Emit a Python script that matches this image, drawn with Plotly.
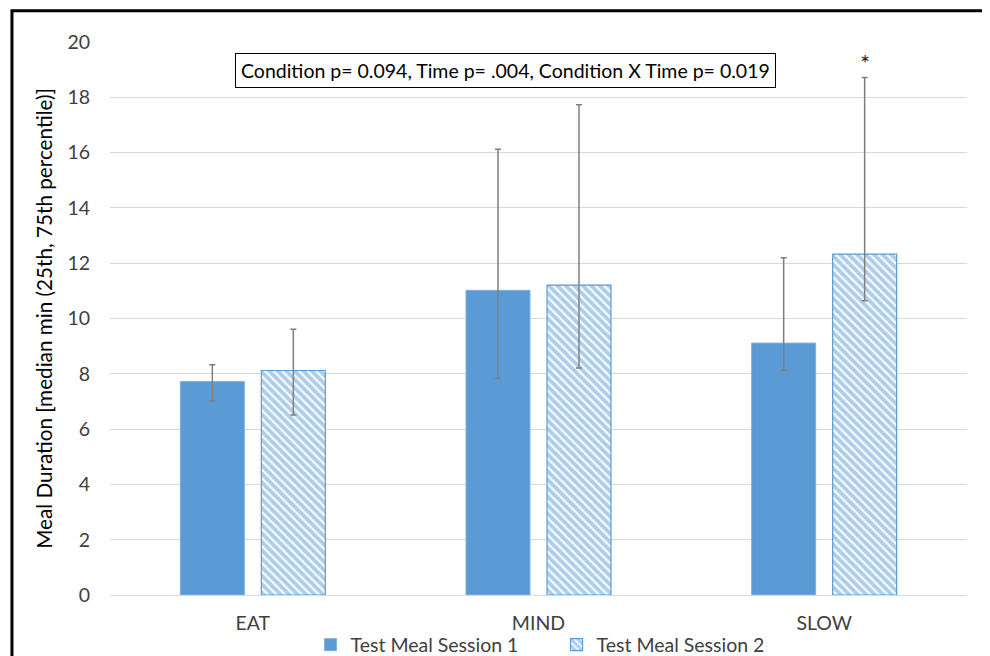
import plotly.graph_objects as go

categories = ["EAT", "MIND", "SLOW"]
series_names = ["Test Meal Session 1", "Test Meal Session 2"]
session1_median = [7.72, 11.02, 9.11]
session1_p25 = [7.02, 7.83, 8.12]
session1_p75 = [8.33, 16.12, 12.20]
session2_median = [8.12, 11.21, 12.33]
session2_p25 = [6.51, 8.21, 10.64]
session2_p75 = [9.61, 17.73, 18.72]
y_ticks = [0, 2, 4, 6, 8, 10, 12, 14, 16, 18, 20]
stats_text = "Condition p= 0.094, Time p= .004, Condition X Time p= 0.019"
y_title = "Meal Duration [median min (25th, 75th percentile)]"

BLUE = "#5B9BD5"
ERR = "#7F7F7F"
FONT = "Lato"
TXT = "#404040"
FS = 19.5

def err(med, lo, hi):
    return dict(type="data", symmetric=False,
                array=[h - m for h, m in zip(hi, med)],
                arrayminus=[m - l for m, l in zip(med, lo)],
                color=ERR, thickness=1.5, width=3)

fig = go.Figure()
fig.add_trace(go.Bar(
    x=categories, y=session1_median, name=series_names[0],
    marker=dict(color=BLUE, line=dict(color="#7FB0DE", width=1)),
    error_y=err(session1_median, session1_p25, session1_p75),
))
fig.add_trace(go.Bar(
    x=categories, y=session2_median, name=series_names[1],
    marker=dict(color="white", line=dict(color=BLUE, width=1.2),
                pattern=dict(shape="\\", fgcolor=BLUE, bgcolor="white",
                             size=6, solidity=0.65, fillmode="overlay")),
    error_y=err(session2_median, session2_p25, session2_p75),
))

# significance asterisk above SLOW session 2
fig.add_annotation(x=categories[2], y=session2_p75[2], text="*",
                   showarrow=False, xshift=40.5, yshift=-2, yanchor="bottom",
                   font=dict(family=FONT, size=24, color="#262626"))

# statistics box
fig.add_annotation(xref="paper", yref="paper", x=0.462, y=0.948,
                   text=stats_text, showarrow=False,
                   xanchor="center", yanchor="middle",
                   font=dict(family=FONT, size=FS, color="black"),
                   bordercolor="black", borderwidth=1, borderpad=5,
                   bgcolor="white")

# outer frame
fig.add_shape(type="rect", xref="paper", yref="paper",
              x0=-0.1144, x1=1.0228, y0=-0.2, y1=1.0565,
              line=dict(color="black", width=3), fillcolor="rgba(0,0,0,0)",
              layer="above")

fig.update_layout(
    width=982, height=648,
    margin=dict(l=102, r=23, t=34, b=61, autoexpand=False),
    paper_bgcolor="white", plot_bgcolor="white",
    barmode="group", bargap=0.433, bargroupgap=0.21,
    font=dict(family=FONT, size=FS, color=TXT),
    showlegend=True,
    legend=dict(orientation="h", xref="paper", x=0.234, xanchor="left",
                yref="paper", y=-0.0904, yanchor="middle",
                entrywidth=201, entrywidthmode="pixels",
                font=dict(family=FONT, size=FS, color=TXT),
                itemwidth=30, tracegroupgap=0, bgcolor="rgba(0,0,0,0)"),
    xaxis=dict(showgrid=False, showline=False, ticks="", automargin=False,
               ticklabelstandoff=14,
               tickfont=dict(family=FONT, size=FS, color=TXT)),
    yaxis=dict(range=[0, 20], tickvals=y_ticks, showgrid=True,
               gridcolor="#D9D9D9", gridwidth=1, zeroline=True,
               zerolinecolor="#D9D9D9", zerolinewidth=1, showline=False,
               ticks="", ticklabelstandoff=19, automargin=False,
               tickfont=dict(family=FONT, size=FS, color=TXT),
               title=dict(text=y_title, standoff=9,
                          font=dict(family=FONT, size=20.7, color="black"))),
)

fig.write_html("out.html", post_script="document.body.style.overflow='hidden';")
